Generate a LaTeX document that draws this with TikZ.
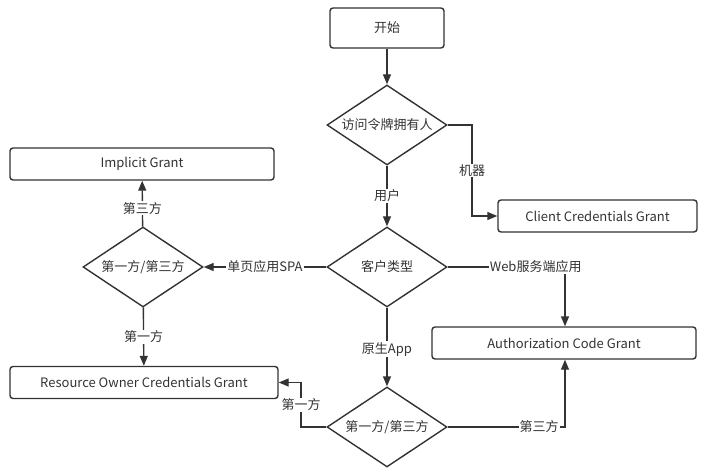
\documentclass[tikz,border=0pt]{standalone}
\usepackage{fontspec}
\setmainfont{Noto Sans CJK SC}
\usetikzlibrary{arrows.meta,shapes.geometric}
\definecolor{ln}{HTML}{333333}
\begin{document}
\begin{tikzpicture}[x=1pt,y=-1pt,
  every node/.style={font=\fontsize{13}{15}\selectfont, text=ln},
  box/.style={draw=ln, line width=1.4pt, rounded corners=3pt, minimum height=32pt, inner sep=0pt},
  dia/.style={draw=ln, line width=1.4pt, diamond, aspect=1.5, minimum width=120pt, minimum height=80pt, inner sep=0pt},
  conn/.style={draw=ln, line width=1.4pt, -{Triangle[length=10pt,width=8pt]}},
  lbl/.style={fill=white, inner sep=1pt}]
\useasboundingbox (0,0) rectangle (709,476);
\node[box, minimum width=114pt, minimum height=40pt] (start) at (387,28) {开始};
\node[dia] (d1) at (387,125) {访问令牌拥有人};
\node[box, minimum width=199pt] (ccg) at (597.5,216) {Client Credentials Grant};
\node[dia] (d2) at (387,267) {客户类型};
\node[box, minimum width=264pt] (ig) at (142,164) {Implicit Grant};
\node[dia] (d3) at (143,267) {第一方/第三方};
\node[box, minimum width=268pt] (rocg) at (144,382.5) {Resource Owner Credentials Grant};
\node[box, minimum width=264pt] (acg) at (564,343) {Authorization Code Grant};
\node[dia] (d4) at (387,427) {第一方/第三方};

\coordinate (c1) at (472,125);
\coordinate (c2) at (565,267);
\coordinate (c3) at (301,427);
\coordinate (c4) at (565,427);

\draw[conn] (start) -- (d1);
\draw[conn] (d1.east) -- (c1) -- node[lbl, pos=0.5]{机器} (c1 |- ccg) -- (ccg.west);
\draw[conn] (d1) -- node[lbl]{用户} (d2);
\draw[conn] (d2.west) -- node[lbl]{单页应用SPA} (d3.east);
\draw[conn] (d3) -- node[lbl, pos=0.4]{第三方} (ig);
\draw[conn] (d3) -- node[lbl, pos=0.5]{第一方} (rocg);
\draw[conn] (d2.east) -- node[lbl, pos=0.75]{Web服务端应用} (c2) -- (acg.north -| c2);
\draw[conn] (d2) -- node[lbl, pos=0.53]{原生App} (d4);
\draw[conn] (d4.west) -- (c3) -- node[lbl]{第一方} (c3 |- rocg) -- (rocg.east);
\draw[conn] (d4.east) -- node[lbl, pos=0.78]{第三方} (c4) -- (acg.south -| c4);
\end{tikzpicture}
\end{document}
